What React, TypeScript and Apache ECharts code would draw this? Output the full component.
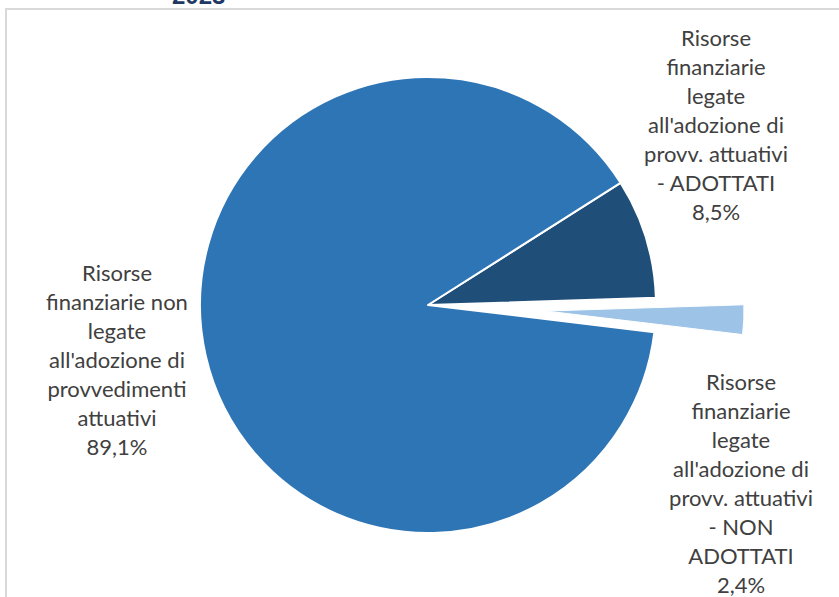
import React, { useEffect, useRef } from "react";
import * as echarts from "echarts";

const categories = [
  "Risorse\nfinanziarie\nlegate\nall'adozione di\nprovv. attuativi\n- ADOTTATI",
  "Risorse\nfinanziarie\nlegate\nall'adozione di\nprovv. attuativi\n- NON\nADOTTATI",
  "Risorse\nfinanziarie non\nlegate\nall'adozione di\nprovvedimenti\nattuativi",
];
const values = [8.5, 2.4, 89.1];
const colors = ["#1F4E79", "#9DC3E6", "#2E75B6"];
const titleText = "2023";

const fmt = (v: number) => v.toFixed(1).replace(".", ",") + "%";

export default function App() {
  const ref = useRef<HTMLDivElement>(null);
  useEffect(() => {
    if (!ref.current) return;
    const chart = echarts.init(ref.current, undefined, { renderer: "svg" });
    const labelStyle = {
      position: "inside" as const,
      color: "#404040",
      fontFamily: "Lato",
      fontSize: 22,
      lineHeight: 29,
      align: "center" as const,
      overflow: "none" as const,
    };
    const mainPositions: Record<number, [number, number]> = {
      0: [716, 124],
      2: [117, 359],
    };
    const explodedPositions: Record<number, [number, number]> = {
      1: [741, 483],
    };
    const makeData = (visible: number[]) =>
      categories.map((name, i) => ({
        name,
        value: values[i],
        itemStyle: visible.includes(i)
          ? { color: colors[i] }
          : { color: "rgba(0,0,0,0)", borderWidth: 0 },
        label: { show: visible.includes(i) },
      }));
    chart.setOption({
      animation: false,
      graphic: [
        {
          type: "rect",
          shape: { x: 6, y: 9, width: 900, height: 700 },
          style: { fill: "none", stroke: "#D9D9D9", lineWidth: 2 },
          silent: true,
        },
        {
          type: "text",
          x: 172,
          y: -5,
          style: {
            text: titleText,
            fill: "#1F3864",
            font: "bold 24px 'Liberation Sans'",
            verticalAlign: "middle",
            align: "left",
          },
          silent: true,
        },
      ],
      series: [
        {
          type: "pie",
          center: [428, 305],
          radius: 228,
          startAngle: 32.4,
          clockwise: true,
          silent: true,
          itemStyle: { borderColor: "#FFFFFF", borderWidth: 2 },
          label: {
            ...labelStyle,
            formatter: (p: any) => `${p.name}\n${fmt(p.value)}`,
          },
          labelLine: { show: false },
          labelLayout: (p: any) => {
            const pos = mainPositions[p.dataIndex];
            if (!pos) return {};
            return { x: pos[0], y: pos[1], align: "center", verticalAlign: "middle" };
          },
          data: makeData([0, 2]),
        },
        {
          type: "pie",
          center: [546, 311],
          radius: 198,
          startAngle: 32.4,
          clockwise: true,
          silent: true,
          itemStyle: { borderColor: "#FFFFFF", borderWidth: 1 },
          label: {
            ...labelStyle,
            formatter: (p: any) => `${p.name}\n${fmt(p.value)}`,
          },
          labelLine: { show: false },
          labelLayout: (p: any) => {
            const pos = explodedPositions[p.dataIndex];
            if (!pos) return {};
            return { x: pos[0], y: pos[1], align: "center", verticalAlign: "middle" };
          },
          data: makeData([1]),
        },
      ],
    });
    return () => chart.dispose();
  }, []);
  return (
    <div
      ref={ref}
      style={{ position: "fixed", left: 0, top: 0, width: 839, height: 597, background: "#fff" }}
    />
  );
}
